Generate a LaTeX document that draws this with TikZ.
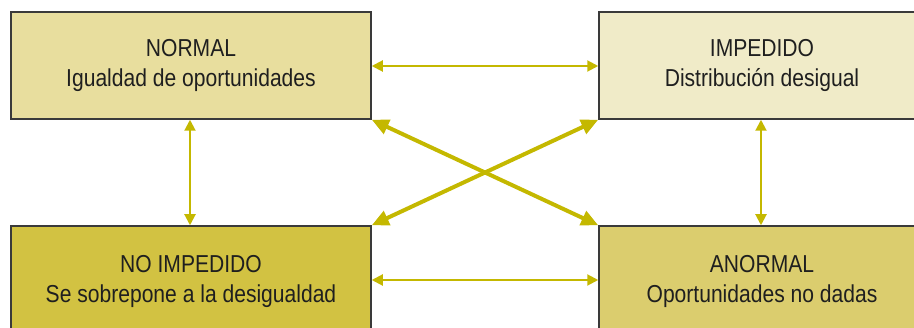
\documentclass[tikz,border=0pt]{standalone}
\usepackage{fontspec}
\setmainfont{Liberation Sans}[FakeStretch=0.86]
\usetikzlibrary{arrows.meta}
\definecolor{arr}{HTML}{C4B800}
\definecolor{cTL}{HTML}{E8DE9E}
\definecolor{cTR}{HTML}{F0EBC8}
\definecolor{cBL}{HTML}{D2C242}
\definecolor{cBR}{HTML}{DBCD6E}
\definecolor{bord}{HTML}{3A3A3A}
\tikzset{
  box/.style={draw=bord, line width=1.5pt, inner sep=0pt, align=center,
    font=\fontsize{24.5}{30}\selectfont, text=black!88},
  thin/.style={draw=arr, line width=2pt, {Triangle[length=11pt,width=11pt]}-{Triangle[length=11pt,width=11pt]}},
  thick/.style={draw=arr, line width=4pt, {Triangle[length=17pt,width=15pt]}-{Triangle[length=17pt,width=15pt]}}
}
\begin{document}
\begin{tikzpicture}[x=1pt,y=-1pt]
\useasboundingbox (0,0) rectangle (914,328);
\node[box, fill=cTL, minimum width=360pt, minimum height=107pt] (tl) at (191,65.5) {NORMAL\\Igualdad de oportunidades};
\node[box, fill=cTR, minimum width=326pt, minimum height=107pt] (tr) at (762,65.5) {IMPEDIDO\\Distribución desigual};
\node[box, fill=cBL, minimum width=360pt, minimum height=110pt] (bl) at (191,281) {NO IMPEDIDO\\Se sobrepone a la desigualdad};
\node[box, fill=cBR, minimum width=326pt, minimum height=110pt] (br) at (762,281) {ANORMAL\\Oportunidades no dadas};
\draw[thin] (tl.east |- 0,66) -- (tr.west |- 0,66);
\draw[thin] (bl.east |- 0,280) -- (br.west |- 0,280);
\draw[thin] (tl.south -| 190,0) -- (bl.north -| 190,0);
\draw[thin] (tr.south -| 761,0) -- (br.north -| 761,0);
\draw[thick] (tl.south east) -- (br.north west);
\draw[thick] (tr.south west) -- (bl.north east);
\end{tikzpicture}
\end{document}
